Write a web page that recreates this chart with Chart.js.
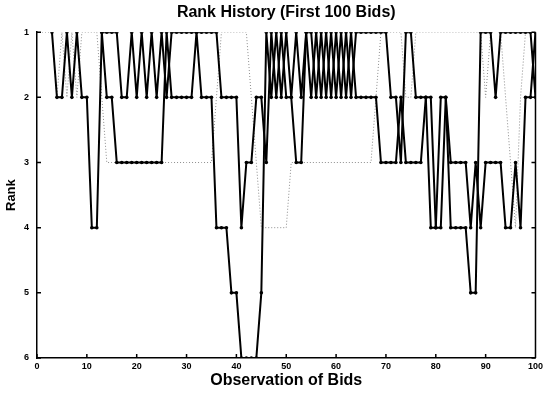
<!DOCTYPE html>
<html>
<head>
<meta charset="utf-8">
<script src="https://cdn.jsdelivr.net/npm/chart.js@4.4.1/dist/chart.umd.min.js"></script>
<style>
html,body{margin:0;padding:0;background:#fff;}
#box{width:546px;height:393px;}
</style>
</head>
<body>
<div id="box"><canvas id="grafico"></canvas></div>
<script>
// osservazioni 1..100 (asse x)
const bids = Array.from({length: 100}, (_, i) => i + 1);

// rank per osservazione - serie nera principale
const rankA = [
	null, null, 1, 2, 2, 1, 2, 1, 2, 2,
	4, 4, 1, 2, 2, 3, 3, 3, 3, 3,
	3, 3, 3, 3, 3, 1, 2, 2, 2, 2,
	2, 1, 2, 2, 2, 4, 4, 4, 5, 5,
	6, 6, 6, 6, 5, 1, 2, 1, 2, 1,
	2, 1, 2, 1, 2, 1, 2, 1, 2, 1,
	2, 1, 2, 1, 1, 1, 1, 1, 1, 1,
	2, 2, 3, 1, 1, 2, 2, 2, 4, 4,
	2, 2, 4, 4, 4, 4, 5, 5, 1, 1,
	1, 2, 1, 1, 1, 1, 1, 1, 1, 2
];

// seconda serie nera
const rankB = [
	null, null, null, null, null, null, null, null, null, null,
	null, null, 1, 1, 1, 1, 2, 2, 1, 2,
	1, 2, 1, 2, 1, 2, 1, 1, 1, 1,
	1, 1, 1, 1, 1, 1, 2, 2, 2, 2,
	4, 3, 3, 2, 2, 3, 1, 2, 1, 2,
	2, 3, 3, 1, 1, 2, 1, 2, 1, 2,
	1, 2, 1, 2, 2, 2, 2, 2, 3, 3,
	3, 3, 2, 3, 3, 3, 3, 2, 2, 4,
	4, 2, 3, 3, 3, 3, 4, 3, 4, 3,
	3, 3, 3, 4, 4, 3, 4, 2, 2, 1
];

// serie grigia tratteggiata
const rankC = [
	1, 1, 1, 2, 1, 2, 1, 2, 1, 1,
	1, 1, 2, 3, 3, 3, 3, 3, 3, 3,
	3, 3, 3, 3, 3, 3, 3, 3, 3, 3,
	3, 3, 3, 3, 3, 2, 1, 1, 1, 1,
	1, 1, 2, 3, 4, 4, 4, 4, 4, 4,
	3, 3, 3, 3, 3, 3, 3, 3, 3, 3,
	3, 3, 3, 3, 3, 3, 3, 2, 1, 1,
	1, 1, 1, 2, 2, 1, 1, 1, 1, 1,
	1, 1, 1, 1, 1, 1, 1, 1, 1, 2,
	1, 2, 1, 2, 3, 4, 2, 1, 1, 1
];

const xTicks = [0, 10, 20, 30, 40, 50, 60, 70, 80, 90, 100];
const rankTicks = [1, 2, 3, 4, 5, 6];

function punti(serie){
	return bids.map((b, i) => ({x: b, y: serie[i]}));
}

// bordo destro e tacche interne stile matlab
const tacche = {
	id: 'tacche',
	afterDraw(chart){
		const {ctx, chartArea: a, scales: {x, y}} = chart;
		ctx.save();
		ctx.strokeStyle = '#000';
		ctx.lineWidth = 1.5;
		ctx.beginPath();
		ctx.moveTo(a.right, a.top); ctx.lineTo(a.right, a.bottom);
		for(const v of xTicks){
			const px = x.getPixelForValue(v);
			ctx.moveTo(px, a.bottom); ctx.lineTo(px, a.bottom - 4);
		}
		for(const r of rankTicks){
			const py = y.getPixelForValue(r);
			ctx.moveTo(a.left, py); ctx.lineTo(a.left + 4, py);
			ctx.moveTo(a.right, py); ctx.lineTo(a.right - 4, py);
		}
		ctx.stroke();
		ctx.restore();
	}
};

Chart.defaults.font.family = '"Liberation Sans", Arial, sans-serif';
Chart.defaults.color = '#000';

const nero = {
	borderColor: '#000',
	backgroundColor: '#000',
	borderWidth: 2,
	pointRadius: 1.8,
	pointBorderWidth: 0,
	pointBackgroundColor: '#000',
	tension: 0
};

new Chart(document.getElementById('grafico'), {
	type: 'line',
	data: {
		datasets: [
			Object.assign({label: 'A', data: punti(rankA)}, nero),
			Object.assign({label: 'B', data: punti(rankB)}, nero),
			{
				label: 'C',
				data: punti(rankC),
				borderColor: '#8c8c8c',
				borderWidth: 1,
				borderDash: [1, 2],
				pointRadius: 0,
				tension: 0
			}
		]
	},
	options: {
		responsive: true,
		maintainAspectRatio: false,
		animation: false,
		devicePixelRatio: 1,
		layout: {padding: {left: 0, right: 10, top: 0, bottom: 0}},
		plugins: {
			legend: {display: false},
			tooltip: {enabled: false},
			title: {
				display: true,
				fullSize: false,
				text: 'Rank History (First 100 Bids)',
				font: {size: 16, weight: 'bold'},
				color: '#000',
				padding: {top: 3, bottom: 10}
			}
		},
		scales: {
			x: {
				type: 'linear',
				min: 0,
				max: 100,
				ticks: {stepSize: 10, font: {size: 9, weight: 'bold'}, color: '#000', padding: 3, maxRotation: 0},
				grid: {display: false, drawTicks: false},
				border: {display: true, color: '#000', width: 1.5},
				title: {display: true, text: 'Observation of Bids', font: {size: 16, weight: 'bold'}, color: '#000', padding: {top: 0, bottom: 3}},
				afterFit(s){ s.height = 35; }
			},
			y: {
				type: 'linear',
				reverse: true,
				min: 1,
				max: 6,
				ticks: {stepSize: 1, font: {size: 9, weight: 'bold'}, color: '#000', padding: 8},
				grid: {display: false, drawTicks: false},
				border: {display: true, color: '#000', width: 1.5},
				title: {display: true, text: 'Rank', font: {size: 13, weight: 'bold'}, color: '#000', padding: {top: 4, bottom: 0}},
				afterFit(s){ s.width = 37; }
			}
		}
	},
	plugins: [tacche]
});
</script>
</body>
</html>
